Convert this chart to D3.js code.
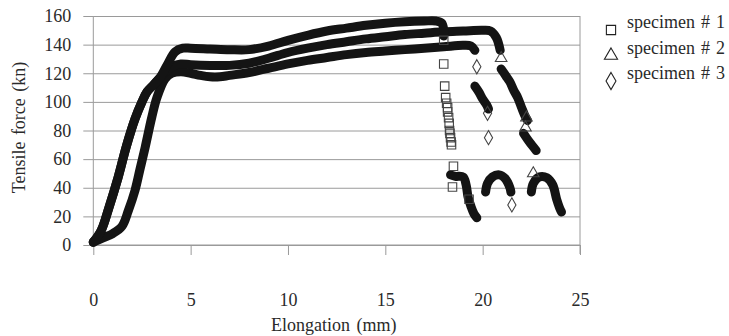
<!DOCTYPE html>
<html>
<head>
<meta charset="utf-8">
<script src="https://cdn.jsdelivr.net/npm/d3@7"></script>
<style>
  html, body { margin: 0; padding: 0; background: #fff; }
</style>
</head>
<body>
<svg id="chart" width="729" height="336"></svg>
<script>
// ---------- data (elongation mm, tensile force kN) ----------
const xTicks = [0, 5, 10, 15, 20, 25];
const yTicks = [0, 20, 40, 60, 80, 100, 120, 140, 160];
const seriesNames = ["specimen # 1", "specimen # 2", "specimen # 3"];

// specimen 1 (square) – dense curve
const s1Elong = [0, 0.4, 0.8, 1.27, 1.7, 2.14, 2.5, 2.76, 3.1, 3.43, 3.8, 4.2, 4.6, 5, 6, 7, 8, 9, 10, 11, 12, 13, 14, 15, 16, 17, 17.6, 17.9, 18.0, 18.0];
const s1Force = [2, 10, 26, 47, 69, 88, 100, 107, 112, 117, 126, 135, 137.5, 137.5, 137, 136.5, 136.5, 139, 143, 146.5, 149.5, 151.5, 153.5, 155, 156, 156.5, 156.5, 155, 150, 146];
const s1TailElong = [18.35, 18.6, 19.0, 19.15, 19.25, 19.4, 19.55, 19.7];
const s1TailForce = [49, 48, 47.5, 42, 33.5, 27, 22, 19];
const s1MarkElong = [18.0, 18.0, 18.05, 18.1, 18.15, 18.2, 18.2, 18.25, 18.28, 18.3, 18.32, 18.35, 18.38, 18.4, 18.5, 18.45, 19.3];
const s1MarkForce = [143, 126.5, 111, 103, 99, 96, 93, 89, 85, 80, 78, 75, 72, 70, 55, 40.5, 32];

// specimen 2 (triangle)
const s2Elong = [0, 0.4, 0.8, 1.27, 1.7, 2.14, 2.5, 2.76, 3.1, 3.43, 3.8, 4.1, 4.5, 5, 6, 7, 8, 9, 10, 11, 12, 13, 14, 15, 16, 17, 18, 19, 20, 20.4, 20.7, 20.9];
const s2Force = [2, 10, 26, 47, 69, 88, 100, 107, 112, 117, 122, 125, 126.5, 126, 125.5, 125.5, 127, 130.5, 134.5, 137.5, 140, 142, 144, 145.5, 147, 148, 149, 149.5, 150, 149.5, 145, 136];
const s2Tail1Elong = [20.95, 21.2, 21.4, 21.6, 21.8, 22.0, 22.15, 22.3];
const s2Tail1Force = [123, 118, 114, 108, 103, 96, 91, 87];
const s2Tail2Elong = [22.1, 22.4, 22.75];
const s2Tail2Force = [78, 72, 66];
const s2LobeElong = [22.5, 22.6, 22.9, 23.3, 23.6, 23.8, 23.95, 24.05];
const s2LobeForce = [37, 43, 47.5, 47, 42, 32, 26, 23];
const s2MarkElong = [20.95, 22.25, 22.2, 22.6];
const s2MarkForce = [130.5, 89, 82, 50];

// specimen 3 (diamond)
const s3Elong = [0, 0.5, 1.0, 1.47, 1.8, 2.14, 2.4, 2.66, 3.0, 3.27, 3.68, 4.04, 4.5, 5, 5.5, 6, 6.5, 7, 8, 9, 10, 11, 12, 13, 14, 15, 16, 17, 18, 19, 19.4, 19.6];
const s3Force = [2, 5, 8, 13, 24, 38, 53, 68, 89, 103, 116, 120, 121, 120, 118.5, 117.5, 117.5, 118.5, 120.5, 123.5, 126.5, 129, 131, 133, 134.5, 135.5, 136.5, 137.5, 138.5, 139.5, 139, 136];
const s3Tail1Elong = [19.6, 19.8, 20.0, 20.2, 20.3];
const s3Tail1Force = [111, 107, 102, 98, 95];
const s3LobeElong = [20.15, 20.25, 20.5, 20.85, 21.15, 21.4, 21.45];
const s3LobeForce = [37, 43, 47.5, 49, 46.5, 40, 37];
const s3MarkElong = [19.7, 20.25, 20.3, 21.5];
const s3MarkForce = [124.5, 92, 75, 28];

// ---------- chart ----------
const svg = d3.select("#chart");
const x = d3.scaleLinear().domain([0, 25]).range([93.3, 580]);
const y = d3.scaleLinear().domain([0, 160]).range([245, 16]);
const gridColor = "#9a9a9a";
const textColor = "#2a2a2a";
const FS = 18;
const FONT = "'Times New Roman', 'Liberation Serif', Times, 'DejaVu Serif', serif";

// horizontal gridlines
const gy = svg.append("g").attr("transform", `translate(${x(0)},0)`)
  .call(d3.axisLeft(y).tickValues(yTicks).tickSize(-(x(25) - x(0))).tickFormat(""));
gy.select(".domain").remove();
gy.selectAll("line").attr("stroke", gridColor);

// y axis with outward ticks and labels
const ya = svg.append("g").attr("transform", `translate(${x(0)},0)`)
  .call(d3.axisLeft(y).tickValues(yTicks).tickSize(10).tickPadding(12).tickFormat(d3.format("d")));
ya.attr("font-family", null).attr("font-size", null);
ya.select(".domain").attr("stroke", gridColor).attr("d", `M0,${y(160)}V${y(0)}`);
ya.selectAll("line").attr("stroke", gridColor);
ya.selectAll("text").attr("fill", textColor).style("font-family", FONT).style("font-size", FS + "px");

// right border
svg.append("line").attr("x1", x(25)).attr("x2", x(25)).attr("y1", y(160)).attr("y2", y(0) + 9)
  .attr("stroke", gridColor);

// x axis
const xa = svg.append("g").attr("transform", `translate(0,${y(0)})`)
  .call(d3.axisBottom(x).tickValues(xTicks).tickSize(10).tickPadding(38).tickFormat(d3.format("d")));
xa.attr("font-family", null).attr("font-size", null);
xa.select(".domain").attr("stroke", gridColor).attr("d", `M${x(0)},0H${x(25)}`);
xa.selectAll("line").attr("stroke", gridColor);
xa.selectAll("text").attr("fill", textColor).style("font-family", FONT).style("font-size", FS + "px");

// axis titles
svg.append("text").attr("x", (x(0) + x(25)) / 2 - 3).attr("y", 331)
  .attr("text-anchor", "middle").style("font-family", FONT).style("font-size", FS + "px")
  .attr("fill", textColor).style("word-spacing", "2px").text("Elongation (mm)");
svg.append("text").attr("transform", `translate(25,${(y(0) + y(160)) / 2 - 3}) rotate(-90)`)
  .attr("text-anchor", "middle").style("font-family", FONT).style("font-size", FS + "px")
  .attr("fill", textColor).style("word-spacing", "2px").text("Tensile force (kn)");

// dense curves
const line = d3.line().x(d => x(d[0])).y(d => y(d[1])).curve(d3.curveCatmullRom.alpha(0.5));
const zip = (a, b) => a.map((v, i) => [v, b[i]]);
const dense = [
  zip(s3Elong, s3Force), zip(s2Elong, s2Force), zip(s1Elong, s1Force),
  zip(s1TailElong, s1TailForce),
  zip(s2Tail1Elong, s2Tail1Force), zip(s2Tail2Elong, s2Tail2Force), zip(s2LobeElong, s2LobeForce),
  zip(s3Tail1Elong, s3Tail1Force), zip(s3LobeElong, s3LobeForce)
];
svg.append("g").selectAll("path").data(dense).join("path")
  .attr("d", line).attr("fill", "none").attr("stroke", "#141414")
  .attr("stroke-width", 9).attr("stroke-linecap", "round").attr("stroke-linejoin", "round");

// open markers
const symSquare = d3.symbol().type(d3.symbolSquare).size(72);
const symTri = d3.symbol().type(d3.symbolTriangle).size(58);
const symDiamond = d3.symbol().type(d3.symbolDiamond).size(58);
const markerSets = [
  { pts: zip(s1MarkElong, s1MarkForce), sym: symSquare },
  { pts: zip(s2MarkElong, s2MarkForce), sym: symTri },
  { pts: zip(s3MarkElong, s3MarkForce), sym: symDiamond }
];
markerSets.forEach(ms => {
  svg.append("g").selectAll("path").data(ms.pts).join("path")
    .attr("d", ms.sym).attr("transform", d => `translate(${x(d[0])},${y(d[1])})`)
    .attr("fill", "none").attr("stroke", "#444").attr("stroke-width", 1.1);
});

// legend
const legSyms = [
  d3.symbol().type(d3.symbolSquare).size(85),
  d3.symbol().type(d3.symbolTriangle).size(75),
  d3.symbol().type(d3.symbolDiamond).size(85)
];
const leg = svg.append("g");
seriesNames.forEach((name, i) => {
  const cy = 29 + i * 25.5;
  leg.append("path").attr("d", legSyms[i]()).attr("transform", `translate(611,${cy + 1})`)
    .attr("fill", "none").attr("stroke", "#222").attr("stroke-width", 1.1);
  leg.append("text").attr("x", 627).attr("y", cy - 1).style("font-family", FONT).style("font-size", FS + "px")
    .attr("fill", textColor).style("word-spacing", "1.5px").text(name);
});
</script>
</body>
</html>
